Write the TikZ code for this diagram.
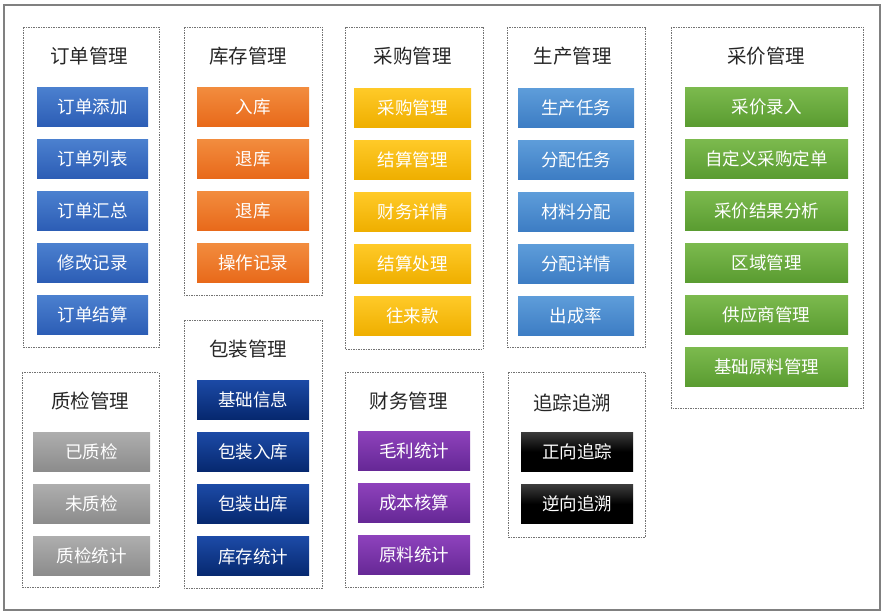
\documentclass[tikz,border=0pt]{standalone}
\usepackage{fontspec}
\newfontfamily\cjk{Noto Sans CJK SC}
\definecolor{blueA}{HTML}{4B80CF}
\definecolor{blueB}{HTML}{2C5DB5}
\definecolor{orangeA}{HTML}{F28C3E}
\definecolor{orangeB}{HTML}{E8691A}
\definecolor{yellowA}{HTML}{FFCA28}
\definecolor{yellowB}{HTML}{EFAF00}
\definecolor{skyA}{HTML}{5E9DDA}
\definecolor{skyB}{HTML}{3D7DC4}
\definecolor{greenA}{HTML}{7CBA4E}
\definecolor{greenB}{HTML}{5A9C31}
\definecolor{grayA}{HTML}{AEAEAE}
\definecolor{grayB}{HTML}{8C8C8C}
\definecolor{navyA}{HTML}{1C4AA6}
\definecolor{navyB}{HTML}{06286F}
\definecolor{purpleA}{HTML}{8E42BC}
\definecolor{purpleB}{HTML}{662896}
\definecolor{blackA}{HTML}{3C3C3C}
\definecolor{blackB}{HTML}{000000}
\tikzset{
  panel/.style={draw=black!55, dash pattern=on 1.5pt off 1pt, line width=0.6pt},
  title/.style={font=\cjk\fontsize{19.5}{22}\selectfont, text=black!85},
  btn/.style 2 args={top color=#1, bottom color=#2, draw=none, text=white,
    font=\cjk\fontsize{17.5}{20}\selectfont, minimum height=39pt, inner sep=0pt}
}
\begin{document}
\begin{tikzpicture}[x=1pt,y=-1pt]
    \useasboundingbox (0,0) rectangle (887,616);
    \draw[black!50, line width=1.2pt] (4,5) rectangle (880,610);

    % 订单管理
    \draw[panel] (23,27) rectangle (159,347);
    \node[title] (orderT) at (89,56) {订单管理};
    \foreach \t [count=\i from 0] in {订单添加,订单列表,订单汇总,修改记录,订单结算}
      \node[btn={blueA}{blueB}, minimum width=111pt] (order\i) at (92.5,{107+52*\i}) {\t};

    % 库存管理
    \draw[panel] (184,27) rectangle (322,295);
    \node[title] (stockT) at (248,56) {库存管理};
    \foreach \t [count=\i from 0] in {入库,退库,退库,操作记录}
      \node[btn={orangeA}{orangeB}, minimum width=112pt] (stock\i) at (253,{107+52*\i}) {\t};

    % 包装管理
    \draw[panel] (184,320) rectangle (322,588);
    \node[title] (packT) at (248,349) {包装管理};
    \foreach \t [count=\i from 0] in {基础信息,包装入库,包装出库,库存统计}
      \node[btn={navyA}{navyB}, minimum width=112pt] (pack\i) at (253,{399.5+52.3*\i}) {\t};

    % 质检管理
    \draw[panel] (22,372) rectangle (159,587);
    \node[title] (qcT) at (90,401) {质检管理};
    \foreach \t [count=\i from 0] in {已质检,未质检,质检统计}
      \node[btn={grayA}{grayB}, minimum width=117pt] (qc\i) at (91.5,{451.5+52*\i}) {\t};

    % 采购管理
    \draw[panel] (345,27) rectangle (483,349);
    \node[title] (buyT) at (412.5,56) {采购管理};
    \foreach \t [count=\i from 0] in {采购管理,结算管理,财务详情,结算处理,往来款}
      \node[btn={yellowA}{yellowB}, minimum width=117pt] (buy\i) at (412.5,{107.5+52*\i}) {\t};

    % 财务管理
    \draw[panel] (345,372) rectangle (483,587);
    \node[title] (finT) at (408.5,401) {财务管理};
    \foreach \t [count=\i from 0] in {毛利统计,成本核算,原料统计}
      \node[btn={purpleA}{purpleB}, minimum width=112pt] (fin\i) at (414,{450.5+52.2*\i}) {\t};

    % 生产管理
    \draw[panel] (507,27) rectangle (645,347);
    \node[title] (prodT) at (572.5,56) {生产管理};
    \foreach \t [count=\i from 0] in {生产任务,分配任务,材料分配,分配详情,出成率}
      \node[btn={skyA}{skyB}, minimum width=116pt] (prod\i) at (576,{107.5+52*\i}) {\t};

    % 追踪追溯 (black buttons, light only at the top)
    \draw[panel] (508,372) rectangle (645,537);
    \node[title] (traceT) at (572,403) {追踪追溯};
    \foreach \t [count=\i from 0] in {正向追踪,逆向追溯}
      \node[btn={blackA}{blackB}, middle color=black, minimum width=112pt] (trace\i) at (577,{451.5+52.5*\i}) {\t};

    % 采价管理
    \draw[panel] (671,27) rectangle (863,408);
    \node[title] (priceT) at (766,56) {采价管理};
    \foreach \t [count=\i from 0] in {采价录入,自定义采购定单,采价结果分析,区域管理,供应商管理,基础原料管理}
      \node[btn={greenA}{greenB}, minimum width=163pt] (price\i) at (766.5,{106.5+52*\i}) {\t};

\end{tikzpicture}
\end{document}
